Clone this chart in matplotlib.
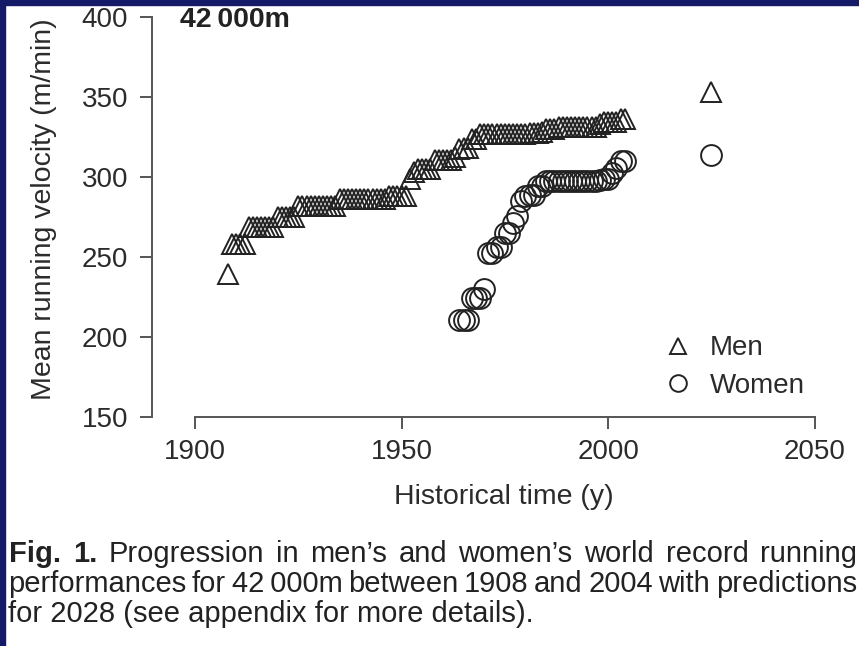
import numpy as np
import matplotlib
matplotlib.use("Agg")
import matplotlib.pyplot as plt
from matplotlib.patches import Rectangle

plt.rcParams["font.family"] = ["Liberation Sans", "DejaVu Sans"]

# world record velocity (m/min), one value per year
men_years = np.arange(1908, 2005)
men_vel = [239.6,
           258.4, 258.4, 258.4, 258.4,
           269.0, 269.0, 269.0, 269.0, 269.0, 269.0, 269.0,
           275.2, 275.2, 275.2, 275.2, 275.2,
           281.8, 281.8, 281.8, 281.8, 281.8, 281.8, 281.8, 281.8, 281.8, 281.8,
           286.3, 286.3, 286.3, 286.3, 286.3, 286.3, 286.3, 286.3, 286.3, 286.3, 286.3, 286.3,
           288.4, 288.4, 288.4, 288.4, 288.4,
           298.5, 303.1,
           305.1, 305.1, 305.1, 305.1,
           310.5, 310.5, 310.5, 310.5, 310.5,
           312.3, 317.7, 318.2, 318.2, 324.0, 324.0,
           326.7, 326.7, 326.7, 326.7, 326.7, 326.7, 326.7, 326.7, 326.7, 326.7, 326.7, 326.7,
           327.4, 327.4, 327.4, 327.9,
           330.2, 330.2, 330.2,
           331.1, 331.1, 331.1, 331.1, 331.1, 331.1, 331.1, 331.1, 331.1, 331.1,
           333.1, 334.1, 334.1, 334.1, 334.3, 336.2, 336.2]

women_years = np.arange(1964, 2005)
women_vel = [210.5, 210.5, 210.5,
             224.1, 224.1, 224.1, 229.7,
             252.3, 252.3, 256.2, 256.2, 265.3, 265.3,
             271.3, 275.4, 284.7, 288.3, 288.7, 288.7, 294.3, 294.3,
             297.7, 297.7, 297.7, 297.7, 297.7, 297.7, 297.7, 297.7, 297.7, 297.7, 297.7, 297.7, 297.7,
             298.3, 298.5, 298.5, 302.6, 305.9, 310.1, 310.1]

pred_year = [2025]
pred_men = [353.0]
pred_women = [313.8]

x_ticks = [1900, 1950, 2000, 2050]
y_ticks = [150, 200, 250, 300, 350, 400]

caption_1 = ["Fig.", "1.", "Progression", "in", "men\u2019s", "and", "women\u2019s",
             "world", "record", "running"]
caption_2 = ["performances", "for", "42\u2009000m", "between", "1908", "and", "2004",
             "with", "predictions"]
caption_3 = "for 2028 (see appendix for more details)."

W, H = 859, 646
fig = plt.figure(figsize=(W / 100, H / 100), dpi=100)
fig.patch.set_facecolor("white")

navy = "#151a68"
fig.add_artist(Rectangle((0, 0), 5 / W, 1, transform=fig.transFigure, color=navy, zorder=10))
fig.add_artist(Rectangle((0, 1 - 5 / H), 1, 5 / H, transform=fig.transFigure, color=navy, zorder=10))

ax = fig.add_axes([152 / W, 1 - 417 / H, 704 / W, 416 / H])
ax.set_facecolor("none")

ink = "#2b2b2b"
mk = dict(linestyle="none", markerfacecolor="none", markeredgecolor="#222222",
          markeredgewidth=1.4, markersize=15)
ax.plot(men_years, men_vel, marker="^", label="Men", **mk)
ax.plot(women_years, women_vel, marker="o", label="Women", **mk)
ax.plot(pred_year, pred_men, marker="^", **mk)
ax.plot(pred_year, pred_women, marker="o", **mk)

ax.set_xlim(1889.6, 2060)
ax.set_ylim(150, 410)

for s in ["top", "right"]:
    ax.spines[s].set_visible(False)
for s in ["left", "bottom"]:
    ax.spines[s].set_color("#555555")
    ax.spines[s].set_linewidth(1.4)
ax.spines["left"].set_bounds(150, 400)
ax.spines["bottom"].set_bounds(1900, 2050)

ax.set_xticks(x_ticks)
ax.set_yticks(y_ticks)
ax.tick_params(axis="both", length=8.6, width=1.4, color="#555555",
               labelsize=20, labelcolor=ink)
ax.tick_params(axis="x", pad=7)
ax.tick_params(axis="y", pad=8.6)

ax.set_xlabel("Historical time (y)", fontsize=20.5, color=ink)
ax.xaxis.set_label_coords(0.5, -0.162)
ax.set_ylabel("Mean running velocity (m/min)", fontsize=20.5, color=ink)
ax.yaxis.set_label_coords(-0.135, 0.5)

ax.text(0.0398, 0.9375, "42\u2009000m", transform=ax.transAxes, fontsize=20.5,
        fontweight="bold", color="#222222", va="baseline", ha="left")

ax.legend(frameon=False, loc="upper left", bbox_to_anchor=(0.727, 0.196),
          borderpad=0, borderaxespad=0, handlelength=1.0, handletextpad=0.65,
          labelspacing=0.4, markerscale=0.8, fontsize=20, labelcolor=ink)

# caption, first two lines justified
renderer = fig.canvas.get_renderer()


def justified(words, base_y, n_bold, x0, x1, size):
    texts = []
    for i, w in enumerate(words):
        t = fig.text(0, 1 - base_y / H, w, fontsize=size, color="#222222",
                     fontweight="bold" if i < n_bold else "normal", va="baseline")
        texts.append(t)
    widths = [t.get_window_extent(renderer).width for t in texts]
    gap = (x1 - x0 - sum(widths)) / (len(words) - 1)
    x = x0
    for t, w in zip(texts, widths):
        t.set_x(x / W)
        x += w + gap


justified(caption_1, 562, 2, 9, 857, 21)
justified(caption_2, 592, 0, 8, 857, 21)
fig.text(8 / W, 1 - 622 / H, caption_3, fontsize=21, color="#222222", va="baseline")

fig.savefig("out.png", dpi=100)
